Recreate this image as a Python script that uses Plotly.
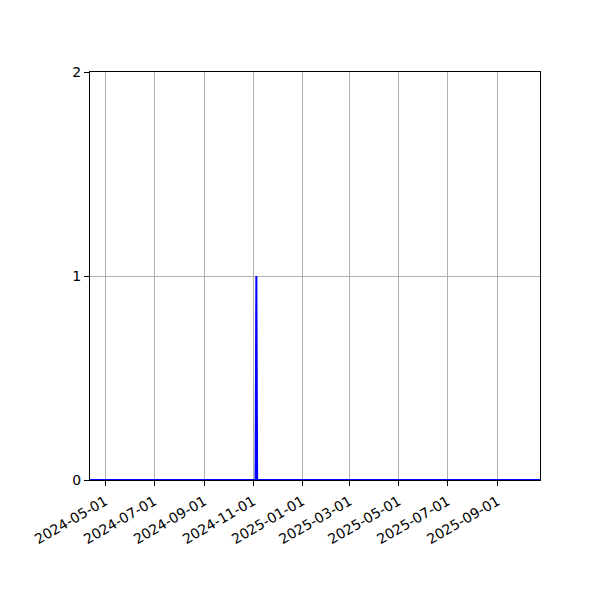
import plotly.graph_objects as go

# sparse daily series: zero everywhere except a one-day spike in early November 2024
dates = ["2024-04-12", "2024-11-04", "2024-11-05", "2024-11-06", "2025-10-24"]
values = [0, 0, 1, 0, 0]

tick_dates = ["2024-05-01", "2024-07-01", "2024-09-01", "2024-11-01", "2025-01-01",
              "2025-03-01", "2025-05-01", "2025-07-01", "2025-09-01"]
y_ticks = [0, 1, 2]

fig = go.Figure()

fig.add_trace(
    go.Scatter(
        x=dates,
        y=values,
        mode="lines",
        line=dict(color="blue", width=2),
        showlegend=False,
    )
)

fig.update_xaxes(
    type="date",
    range=[dates[0], dates[-1]],
    tickvals=tick_dates,
    ticktext=tick_dates,
    tickangle=-30,
    ticklabelstandoff=2,
    showgrid=True,
    gridcolor="#b0b0b0",
    gridwidth=1,
    showline=True,
    linecolor="black",
    linewidth=1,
    mirror=True,
    ticks="outside",
    ticklen=5,
    tickcolor="black",
    zeroline=False,
)
fig.update_yaxes(
    range=[0, 2],
    tickvals=y_ticks,
    showgrid=True,
    gridcolor="#b0b0b0",
    gridwidth=1,
    showline=True,
    linecolor="black",
    linewidth=1,
    mirror=True,
    ticks="outside",
    ticklen=5,
    tickcolor="black",
    zeroline=False,
)

# page body has an 8px margin, so shift the plot area up/left to match
fig.update_layout(
    width=600,
    height=600,
    margin=dict(l=82, r=68, t=64, b=128),
    plot_bgcolor="white",
    paper_bgcolor="white",
    font=dict(family="DejaVu Sans", size=14, color="black"),
)

fig.write_html("out.html")
